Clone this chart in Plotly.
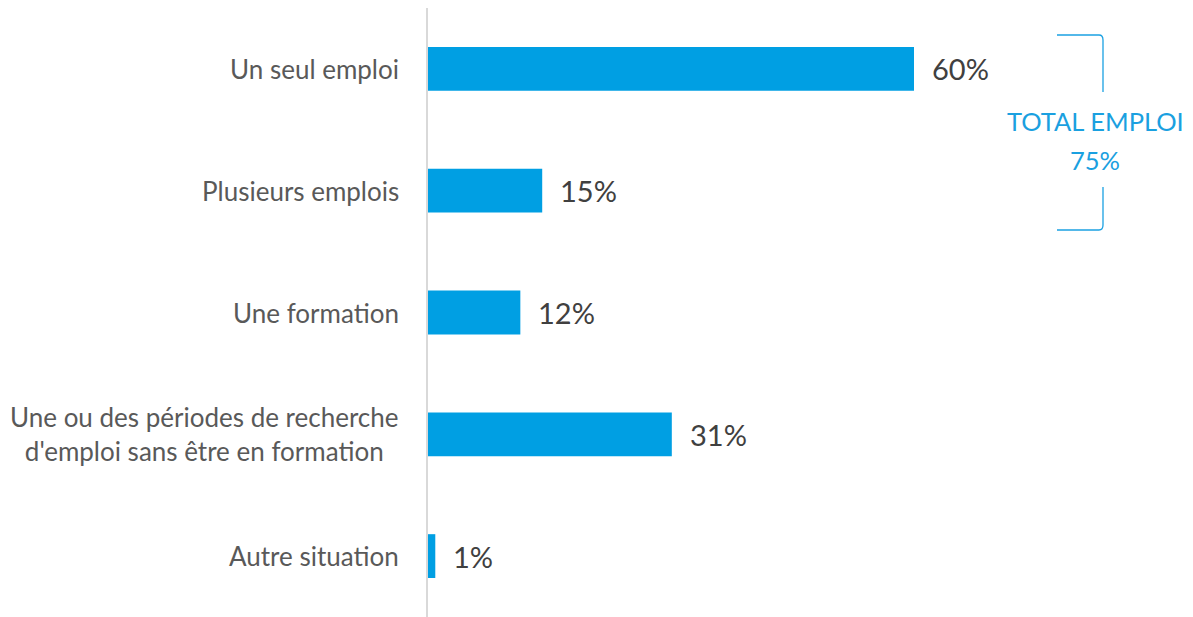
import plotly.graph_objects as go

categories = [
    "Un seul emploi",
    "Plusieurs emplois",
    "Une formation",
    "Une ou des périodes de recherche<br>d'emploi sans être en formation",
    "Autre situation",
]
values = [60, 14.1, 11.4, 30.1, 0.9]
value_labels = ["60%", "15%", "12%", "31%", "1%"]
total_lines = ["TOTAL EMPLOI", "75%"]

BAR = "#009FE3"
LABEL = "#595959"
VAL = "#404040"
ACCENT = "#1AA0E0"
FONT = "Lato"

W, H = 1193, 617
L, R, T, B = 428, 0, 8, 0
xmax = (W - L - R) / 8.1

fig = go.Figure()
fig.add_trace(go.Bar(
    y=categories, x=values, orientation="h",
    marker=dict(color=BAR, line=dict(width=0)),
    hoverinfo="skip",
))

annotations = []
for c, v, t in zip(categories, values, value_labels):
    annotations.append(dict(x=v, y=c, xref="x", yref="y", text=t, showarrow=False,
                            xanchor="left", yanchor="middle", xshift=16,
                            font=dict(family=FONT, size=29, color=VAL)))
    annotations.append(dict(x=0, y=c, xref="paper", yref="y", text=c, showarrow=False,
                            xanchor="right", yanchor="middle", align="center", xshift=-27,
                            font=dict(family=FONT, size=26, color=LABEL)))

def px(x):
    return (x - L) / (W - L - R)

def py(y):
    return (H - B - y) / (H - T - B)

for line, yy in zip(total_lines, [121, 160]):
    annotations.append(dict(x=px(1095), y=py(yy), xref="paper", yref="paper", text=line,
                            showarrow=False, xanchor="center", yanchor="middle",
                            font=dict(family=FONT, size=25.5, color=ACCENT)))

bx0, bx1, bxc = px(1057), px(1099), px(1103)
top_path = (f"M {bx0},{py(35)} L {bx1},{py(35)} Q {bxc},{py(35)} {bxc},{py(40)} "
            f"L {bxc},{py(92)}")
bot_path = (f"M {bxc},{py(187)} L {bxc},{py(225)} Q {bxc},{py(230)} {bx1},{py(230)} "
            f"L {bx0},{py(230)}")
shapes = [
    dict(type="path", path=top_path, xref="paper", yref="paper",
         line=dict(color="#1BA1E2", width=1.3)),
    dict(type="path", path=bot_path, xref="paper", yref="paper",
         line=dict(color="#1BA1E2", width=1.3)),
]

fig.update_layout(
    width=W, height=H,
    margin=dict(l=L, r=R, t=T, b=B),
    plot_bgcolor="white", paper_bgcolor="white",
    showlegend=False,
    bargap=0.64,
    annotations=annotations,
    shapes=shapes,
    xaxis=dict(range=[0, xmax], showgrid=False, zeroline=False, showticklabels=False,
               showline=False, fixedrange=True),
    yaxis=dict(autorange="reversed", showgrid=False, zeroline=False, showticklabels=False,
               showline=True, linecolor="#D9D9D9", linewidth=2, ticks="", fixedrange=True),
    font=dict(family=FONT),
)

fig.write_html("out.html", config={"displayModeBar": False, "staticPlot": True},
               post_script="document.body.style.margin='0';document.body.style.overflow='hidden';")
